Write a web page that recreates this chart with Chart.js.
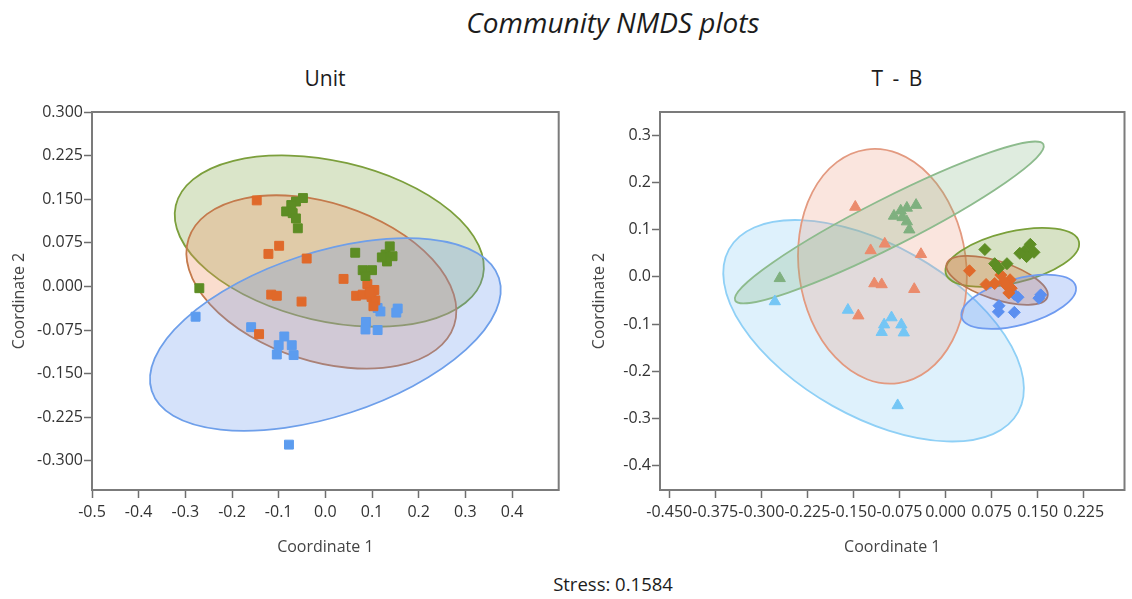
<!DOCTYPE html>
<html>
<head>
<meta charset="utf-8">
<script src="https://cdn.jsdelivr.net/npm/chart.js@4.4.1/dist/chart.umd.min.js"></script>
<style>
  html, body { margin: 0; padding: 0; background: #ffffff; }
  body { width: 1132px; height: 599px; position: relative; overflow: hidden; font-family: 'Open Sans', sans-serif; }
  .label { position: absolute; white-space: nowrap; transform: translate(-50%, -50%); color: #1c1c1c; }
  #mainTitle { left: 613px; top: 22px; font-size: 28px; font-style: italic; }
  #unitTitle { left: 325px; top: 78px; font-size: 21px; }
  #tbTitle { left: 897px; top: 78px; font-size: 21px; word-spacing: 4px; }
  #stressNote { left: 613px; top: 583px; font-size: 18.5px; }
  .panel { position: absolute; top: 0; width: 566px; height: 599px; }
</style>
</head>
<body>
<div class="label" id="mainTitle">Community NMDS plots</div>
<div class="label" id="unitTitle">Unit</div>
<div class="label" id="tbTitle">T - B</div>
<div class="label" id="stressNote">Stress: 0.1584</div>
<div class="panel" style="left:0px"><canvas id="unitChart" width="566" height="599"></canvas></div>
<div class="panel" style="left:566px"><canvas id="tbChart" width="566" height="599"></canvas></div>

<script>
// NMDS sample scores [Coordinate 1, Coordinate 2], split by unit and T/B layer
const unit1T = [[-0.048, 0.152], [-0.063, 0.146], [-0.073, 0.140], [-0.084, 0.129], [-0.070, 0.126], [-0.063, 0.117], [-0.059, 0.100], [-0.270, -0.003]];
const unit1B = [[0.064, 0.058], [0.138, 0.069], [0.129, 0.055], [0.144, 0.052], [0.132, 0.043], [0.121, 0.050], [0.080, 0.028], [0.100, 0.028], [0.086, 0.018]];
const unit2T = [[-0.147, 0.148], [-0.099, 0.070], [-0.122, 0.056], [-0.040, 0.048], [-0.116, -0.014], [-0.104, -0.016], [-0.051, -0.026], [-0.142, -0.082]];
const unit2B = [[0.039, 0.013], [0.090, 0.004], [0.105, -0.006], [0.066, -0.016], [0.080, -0.014], [0.099, -0.018], [0.107, -0.024], [0.103, -0.034], [0.095, -0.010]];
const unit3T = [[-0.278, -0.052], [-0.159, -0.070], [-0.088, -0.086], [-0.100, -0.101], [-0.072, -0.101], [-0.104, -0.117], [-0.068, -0.118], [-0.078, -0.272]];
const unit3B = [[0.112, -0.037], [0.118, -0.043], [0.155, -0.038], [0.152, -0.045], [0.087, -0.061], [0.086, -0.074], [0.112, -0.075]];

// Confidence ellipses in data units: [centre x, centre y, semi-axis 1 (dx, dy), semi-axis 2 (dx, dy)]
const unit1Ellipse = [0.0085, 0.078, 0.329, -0.0611, -0.0385, -0.134];
const unit2Ellipse = [-0.0085, 0.0077, 0.2845, -0.0744, -0.0522, -0.1292];
const unit3Ellipse = [0.0, -0.0826, 0.3719, 0.0972, 0.0541, -0.1341];
const unit1TEllipse = [-0.0916, 0.1152, 0.2510, 0.1651, 0.01716, -0.04541];
const unit2TEllipse = [-0.1028, 0.0224, 0.02633, -0.2471, -0.1349, -0.0250];
const unit3TEllipse = [-0.1172, -0.1140, 0.2355, -0.1722, -0.0668, -0.1590];
const unit1BEllipse = [0.1087, 0.0414, 0.1085, 0.0331, 0.00926, -0.0529];
const unit2BEllipse = [0.0839, -0.0072, 0.0820, -0.0351, -0.0094, -0.0382];
const unit3BEllipse = [0.1191, -0.0527, 0.0929, 0.0328, 0.00954, -0.0470];

// Tick values
const unitXTicks = [-0.5, -0.4, -0.3, -0.2, -0.1, 0.0, 0.1, 0.2, 0.3, 0.4];
const unitYTicks = [-0.300, -0.225, -0.150, -0.075, 0.000, 0.075, 0.150, 0.225, 0.300];
const tbXTicks = [-0.450, -0.375, -0.300, -0.225, -0.150, -0.075, 0.000, 0.075, 0.150, 0.225];
const tbYTicks = [-0.4, -0.3, -0.2, -0.1, 0.0, 0.1, 0.2, 0.3];

const FONT = "'Open Sans', 'DejaVu Sans', sans-serif";
const toPoints = arr => arr.map(([x, y]) => ({ x, y }));

// Draws each ellipse through the chart scales, beneath the markers
const ellipsePlugin = {
  id: 'ellipses',
  beforeDatasetsDraw(chart, args, opts) {
    const { ctx, chartArea, scales: { x, y } } = chart;
    ctx.save();
    ctx.beginPath();
    ctx.rect(chartArea.left, chartArea.top, chartArea.width, chartArea.height);
    ctx.clip();
    for (const e of opts.items || []) {
      const [cx, cy, ux, uy, vx, vy] = e.shape;
      const px = x.getPixelForValue(cx), py = y.getPixelForValue(cy);
      const ax = x.getPixelForValue(cx + ux) - px, ay = y.getPixelForValue(cy + uy) - py;
      const bx = x.getPixelForValue(cx + vx) - px, by = y.getPixelForValue(cy + vy) - py;
      ctx.beginPath();
      ctx.save();
      ctx.transform(ax, ay, bx, by, px, py);
      ctx.arc(0, 0, 1, 0, Math.PI * 2);
      ctx.restore();
      ctx.fillStyle = e.fill;
      ctx.fill();
      ctx.lineWidth = 1.8;
      ctx.strokeStyle = e.stroke;
      ctx.stroke();
    }
    ctx.restore();
  }
};

// Plot frame around the chart area
const framePlugin = {
  id: 'frame',
  afterDatasetsDraw(chart) {
    const { ctx, chartArea: a } = chart;
    ctx.save();
    ctx.strokeStyle = '#7b7b7b';
    ctx.lineWidth = 2;
    ctx.strokeRect(a.left, a.top, a.right - a.left, a.bottom - a.top);
    ctx.restore();
  }
};

function axis(opts) {
  return {
    type: 'linear',
    min: opts.min,
    max: opts.max,
    afterBuildTicks: s => { s.ticks = opts.ticks.map(v => ({ value: v })); },
    afterFit: opts.fit,
    grid: { drawOnChartArea: false, drawTicks: true, tickLength: 8, tickColor: '#6e6e6e', tickWidth: 1.5 },
    border: { display: false },
    ticks: {
      autoSkip: false, maxRotation: 0, minRotation: 0,
      padding: opts.pad, color: '#333333',
      font: { family: FONT, size: 16 },
      callback: v => Number(v).toFixed(opts.digits)
    },
    title: {
      display: true, text: opts.title, color: '#444444',
      font: { family: FONT, size: 16 },
      padding: opts.titlePad
    }
  };
}

function scatterSet(data, color, style, radius) {
  return {
    data: toPoints(data),
    pointStyle: style,
    pointRadius: radius,
    pointHoverRadius: radius,
    backgroundColor: color,
    borderColor: color,
    borderWidth: 1,
    showLine: false
  };
}

function baseOptions(scales, ellipses, padRight) {
  return {
    responsive: false,
    animation: false,
    devicePixelRatio: 1,
    layout: { padding: { left: 0, right: padRight, top: 112, bottom: 0 } },
    plugins: {
      legend: { display: false },
      tooltip: { enabled: false },
      ellipses: { items: ellipses }
    },
    scales
  };
}

// Unit panel
new Chart(document.getElementById('unitChart'), {
  type: 'scatter',
  data: {
    datasets: [
      scatterSet(unit1T.concat(unit1B), '#5d8d24', 'rect', 6.3),
      scatterSet(unit2T.concat(unit2B), '#e0692a', 'rect', 6.3),
      scatterSet(unit3T.concat(unit3B), '#5c9cef', 'rect', 6.3)
    ]
  },
  options: baseOptions({
    x: axis({ min: -0.5, max: 0.5, ticks: unitXTicks, digits: 1, pad: 5, title: 'Coordinate 1',
              titlePad: { top: 0, bottom: 42 }, fit: s => { s.height = 109; } }),
    y: axis({ min: -0.35, max: 0.30, ticks: unitYTicks, digits: 3, pad: 1, title: 'Coordinate 2',
              titlePad: { top: 10, bottom: 0 }, fit: s => { s.width = 92; } })
  }, [
    { shape: unit1Ellipse, fill: 'rgba(122,160,62,0.28)', stroke: '#7c9f3c' },
    { shape: unit2Ellipse, fill: 'rgba(238,142,92,0.30)', stroke: '#c47a4c' },
    { shape: unit3Ellipse, fill: 'rgba(98,148,238,0.27)', stroke: '#6e9fea' }
  ], 6),
  plugins: [ellipsePlugin, framePlugin]
});

// T - B panel
new Chart(document.getElementById('tbChart'), {
  type: 'scatter',
  data: {
    datasets: [
      scatterSet(unit3T, '#74c6f5', 'triangle', 6.5),
      scatterSet(unit2T, '#eb8b6c', 'triangle', 6.5),
      scatterSet(unit1T, '#7fb07f', 'triangle', 6.5),
      scatterSet(unit1B, '#5d8d24', 'rectRot', 6),
      scatterSet(unit2B, '#e0692a', 'rectRot', 6),
      scatterSet(unit3B, '#5b8ff0', 'rectRot', 6)
    ]
  },
  options: baseOptions({
    x: axis({ min: -0.465, max: 0.2914, ticks: tbXTicks, digits: 3, pad: 5, title: 'Coordinate 1',
              titlePad: { top: 0, bottom: 42 }, fit: s => { s.height = 109; } }),
    y: axis({ min: -0.451, max: 0.349, ticks: tbYTicks, digits: 1, pad: 1, title: 'Coordinate 2',
              titlePad: { top: 24, bottom: 0 }, fit: s => { s.width = 94; } })
  }, [
    { shape: unit3TEllipse, fill: 'rgba(125,198,245,0.25)', stroke: '#8fd0f6' },
    { shape: unit2TEllipse, fill: 'rgba(236,150,122,0.25)', stroke: '#e39a80' },
    { shape: unit1TEllipse, fill: 'rgba(128,178,128,0.25)', stroke: '#8dbb8d' },
    { shape: unit1BEllipse, fill: 'rgba(122,160,62,0.30)', stroke: '#7aa03a' },
    { shape: unit2BEllipse, fill: 'rgba(218,112,52,0.30)', stroke: '#b9784e' },
    { shape: unit3BEllipse, fill: 'rgba(92,140,240,0.28)', stroke: '#6f9bf0' }
  ], 0),
  plugins: [ellipsePlugin, framePlugin]
});
</script>
</body>
</html>
